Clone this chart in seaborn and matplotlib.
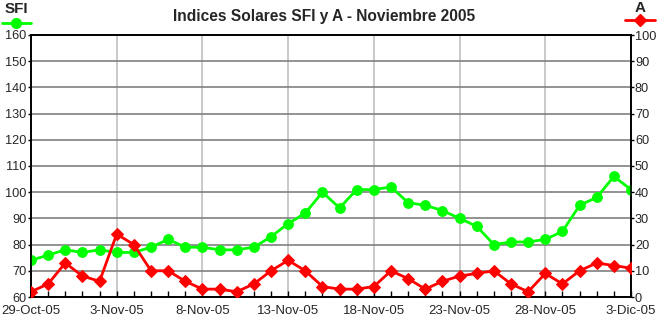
import matplotlib
matplotlib.use("Agg")
import matplotlib.pyplot as plt
from matplotlib.lines import Line2D
import numpy as np
import pandas as pd
import seaborn as sns

# ---- data ----
dates = pd.date_range("2005-10-29", "2005-12-03", freq="D")
sfi = [74, 76, 78, 77, 78, 77, 77, 79, 82, 79, 79, 78, 78, 79, 83, 88, 92, 100,
       94, 101, 101, 102, 96, 95, 93, 90, 87, 80, 81, 81, 82, 85, 95, 98, 106, 101]
a_index = [2, 5, 13, 8, 6, 24, 20, 10, 10, 6, 3, 3, 2, 5, 10, 14, 10, 4,
           3, 3, 4, 10, 7, 3, 6, 8, 9, 10, 5, 2, 9, 5, 10, 13, 12, 11]
tick_labels = ["29-Oct-05", "3-Nov-05", "8-Nov-05", "13-Nov-05", "18-Nov-05",
               "23-Nov-05", "28-Nov-05", "3-Dic-05"]
title = "Indices Solares SFI y A - Noviembre 2005"

df = pd.DataFrame({"fecha": dates, "SFI": sfi, "A": a_index})

sns.set_theme(style="white")
plt.rcParams["font.family"] = ["Liberation Sans", "DejaVu Sans"]

W, H = 658, 323
fig = plt.figure(figsize=(W / 100, H / 100), dpi=100)
ax = fig.add_axes([31 / W, 1 - 297 / H, 600 / W, 262 / H])
ax2 = ax.twinx()

green = "#00ff00"
red = "#ff0000"

sns.lineplot(data=df, x="fecha", y="SFI", ax=ax, color=green, marker="o",
             markersize=7, markeredgecolor=green, linewidth=2.0, zorder=3)
sns.lineplot(data=df, x="fecha", y="A", ax=ax2, color=red, marker="D",
             markersize=6.5, markeredgecolor=red, linewidth=2.0, zorder=3)

ax.set_xlim(dates[0], dates[-1])
ax.set_ylim(60, 160)
ax2.set_ylim(0, 100)
ax.set_yticks(np.arange(60, 161, 10))
ax2.set_yticks(np.arange(0, 101, 10))

major = dates[::5]
ax.set_xticks(major)
ax.set_xticklabels(tick_labels)
ax.set_xticks(dates, minor=True)

ax.set_xlabel("")
ax.set_ylabel("")
ax2.set_ylabel("")

ax.grid(axis="y", color="#808080", linewidth=1.2)
ax.grid(axis="x", which="major", color="#c0c0c0", linewidth=1.2)
ax.set_axisbelow(True)
ax2.grid(False)

for a in (ax, ax2):
    for s in a.spines.values():
        s.set_color("black")
        s.set_linewidth(1.2)

ax.tick_params(axis="y", direction="out", length=2.5, width=1, color="black",
               labelsize=9.2, pad=1, left=True)
ax2.tick_params(axis="y", direction="out", length=2, width=1, color="black",
                labelsize=9.2, pad=0.8, right=True)
ax.tick_params(axis="x", which="both", direction="in", length=4, width=1,
               color="black", labelsize=9.5, pad=6, bottom=True)

ax.set_facecolor("white")
ax2.patch.set_visible(False)

fig.text(324 / W, 1 - 17 / H, title, ha="center", va="center",
         fontsize=11.2, fontweight="bold")

# legend-like headers
fig.text(16 / W, 1 - 9 / H, "SFI", ha="center", va="center",
         fontsize=11, fontweight="bold")
fig.add_artist(Line2D([2 / W, 31 / W], [1 - 23 / H, 1 - 23 / H], color=green,
                      linewidth=2.0, transform=fig.transFigure))
fig.add_artist(Line2D([16 / W], [1 - 23 / H], color=green, marker="o",
                      markersize=7, transform=fig.transFigure))
fig.text(640 / W, 1 - 8 / H, "A", ha="center", va="center",
         fontsize=11, fontweight="bold")
fig.add_artist(Line2D([625 / W, 655 / W], [1 - 20 / H, 1 - 20 / H], color=red,
                      linewidth=2.0, transform=fig.transFigure))
fig.add_artist(Line2D([640 / W], [1 - 20 / H], color=red, marker="D",
                      markersize=6.5, transform=fig.transFigure))

fig.savefig("out.png", dpi=100, facecolor="white")
